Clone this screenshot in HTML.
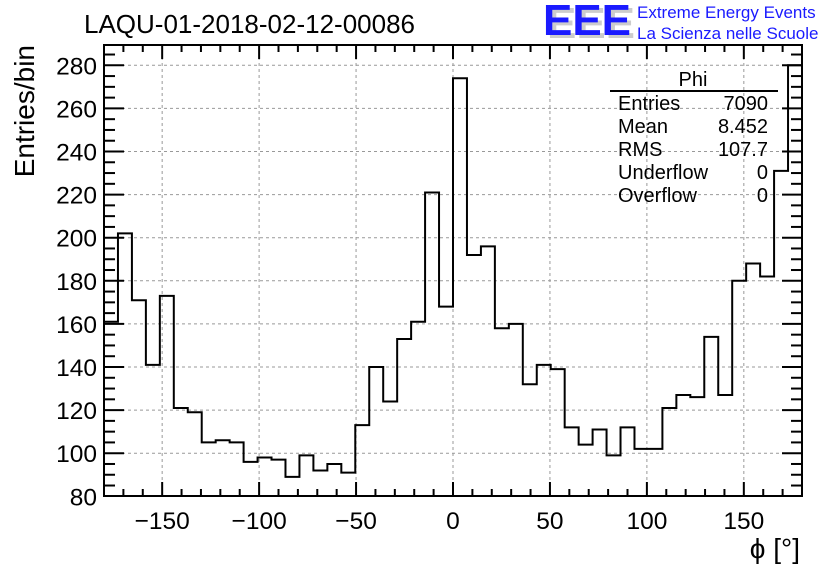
<!DOCTYPE html>
<html><head><meta charset="utf-8"><style>body{margin:0;background:#fff}svg{display:block}text{font-family:"Liberation Sans",sans-serif}</style></head>
<body>
<svg id="s" width="836" height="572" xmlns="http://www.w3.org/2000/svg">
<rect width="836" height="572" fill="#fff"/>
<g id="grid" stroke="#999" stroke-width="1" stroke-dasharray="3,3"></g>
<path id="h" fill="none" stroke="#000" stroke-width="2"/>
<g id="ticks" stroke="#000" stroke-width="2"></g>
<rect x="104" y="45" width="698" height="451" fill="none" stroke="#000" stroke-width="2"/>
<g id="labels" font-size="24.5" fill="#000"></g>
<text x="84" y="33" font-size="26">LAQU-01-2018-02-12-00086</text>
<text x="800" y="558" font-size="28" text-anchor="end">ϕ [°]</text>
<text transform="translate(34,45) rotate(-90)" font-size="28" text-anchor="end">Entries/bin</text>
<g font-family="Liberation Sans" font-weight="bold">
<text x="547" y="38" font-size="44" fill="#ccc" textLength="88" lengthAdjust="spacingAndGlyphs">EEE</text>
<text x="543" y="35" font-size="44" fill="#1a1aff" textLength="88" lengthAdjust="spacingAndGlyphs">EEE</text>
</g>
<text x="637" y="18" font-size="17" fill="#1a1aff">Extreme Energy Events</text>
<text x="637" y="39" font-size="17" fill="#1a1aff">La Scienza nelle Scuole</text>
<line x1="610" y1="91" x2="778" y2="91" stroke="#000" stroke-width="2"/>
<g font-size="20" fill="#000">
<text x="693" y="86" text-anchor="middle">Phi</text>
<text x="618" y="110">Entries</text><text x="768" y="110" text-anchor="end">7090</text>
<text x="618" y="133">Mean</text><text x="768" y="133" text-anchor="end">8.452</text>
<text x="618" y="156">RMS</text><text x="768" y="156" text-anchor="end">107.7</text>
<text x="618" y="179">Underflow</text><text x="768" y="179" text-anchor="end">0</text>
<text x="618" y="202">Overflow</text><text x="768" y="202" text-anchor="end">0</text>
</g>
</svg>
<script>
var ns="http://www.w3.org/2000/svg";
function X(v){return 104+(v+180)*698/360}
function Y(v){return 496.3-(v-80)*2.155}
function el(p,t,a,txt){var e=document.createElementNS(ns,t);for(var k in a)e.setAttribute(k,a[k]);if(txt!=null)e.textContent=txt;document.getElementById(p).appendChild(e);}
for(var v=-150;v<=150;v+=50)el("grid","line",{x1:X(v),x2:X(v),y1:45,y2:496});
for(var v=100;v<=280;v+=20)el("grid","line",{x1:104,x2:802,y1:Y(v),y2:Y(v)});
var d=[161,202,171,141,173,121,119,105,106,105,96,98,97,89,99,92,95,91,113,140,124,153,161,221,168,274,192,196,158,160,132,141,139,112,104,111,99,112,102,102,121,127,126,154,127,180,188,182,231,280];
var p="M104,496";for(var i=0;i<50;i++){var x0=104+i*698/50,x1=104+(i+1)*698/50;p+=" L"+x0+","+Y(d[i])+" L"+x1+","+Y(d[i]);}
p+=" L802,496";document.getElementById("h").setAttribute("d",p);
for(var v=-170;v<=170;v+=10){var L=(v%50==0)?14:7;el("ticks","line",{x1:X(v),x2:X(v),y1:496,y2:496-L});el("ticks","line",{x1:X(v),x2:X(v),y1:45,y2:45+L});}
for(var v=85;v<=285;v+=5){var L=(v%20==0)?20:11;var y=Y(v);if(y<46)continue;el("ticks","line",{x1:104,x2:104+L,y1:y,y2:y});el("ticks","line",{x1:802,x2:802-L,y1:y,y2:y});}
for(var v=80;v<=280;v+=20)el("labels","text",{x:97,y:Y(v)+9,"text-anchor":"end"},String(v));
for(var v=-150;v<=150;v+=50)el("labels","text",{x:X(v),y:529,"text-anchor":"middle"},v<0?"\u2212"+(-v):String(v));
</script>
</body></html>
